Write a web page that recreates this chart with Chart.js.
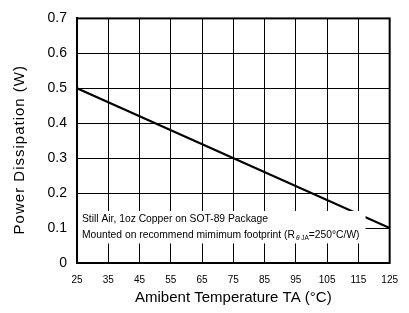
<!DOCTYPE html>
<html>
<head>
<meta charset="utf-8">
<script src="https://cdn.jsdelivr.net/npm/chart.js@4/dist/chart.umd.min.js"></script>
<style>
  html, body { margin: 0; padding: 0; background: #fff; }
  #wrap { width: 409px; height: 313px; }
</style>
</head>
<body>
<div id="wrap"><canvas id="c" width="409" height="313"></canvas></div>
<script>
// ---- data ----
const temperatures = [25, 125];          // °C
const powerDissipation = [0.5, 0.1];     // W
const xTicks = [25, 35, 45, 55, 65, 75, 85, 95, 105, 115, 125];
const yTicks = [0, 0.1, 0.2, 0.3, 0.4, 0.5, 0.6, 0.7];
const noteLine1 = 'Still Air, 1oz Copper on SOT-89 Package';
const noteLine2a = 'Mounted on recommend mimimum footprint (R';
const noteSubTheta = 'θ';
const noteSubJA = ' JA';
const noteLine2b = '=250°C/W)';
const xTitle = 'Amibent Temperature TA (°C)';
const yTitle = 'Power Dissipation (W)';

const FONT = "'Liberation Sans', Arial, Helvetica, sans-serif";

const notePlugin = {
  id: 'note',
  afterDatasetsDraw(chart) {
    const {ctx, chartArea, scales} = chart;
    const x = scales.x, y = scales.y;
    const left = chartArea.left + 1;
    const right = x.getPixelForValue(117.3);
    const top = y.getPixelForValue(0.149);
    const bottom = y.getPixelForValue(0.056);
    ctx.save();
    ctx.fillStyle = '#fff';
    ctx.fillRect(left, top, right - left, bottom - top);
    ctx.fillStyle = '#000';
    ctx.textBaseline = 'middle';
    ctx.textAlign = 'left';
    const F = '10.3px ' + FONT;
    ctx.font = F;
    const tx = left + 4;
    const y1 = top + 8.5, y2 = top + 24.5;
    ctx.fillText(noteLine1, tx, y1);
    let cx = tx;
    ctx.fillText(noteLine2a, cx, y2);
    cx += ctx.measureText(noteLine2a).width + 1;
    ctx.font = 'italic 6.5px ' + FONT;
    ctx.fillText(noteSubTheta, cx, y2 + 2.5);
    cx += ctx.measureText(noteSubTheta).width;
    ctx.font = '6.5px ' + FONT;
    ctx.fillText(noteSubJA, cx, y2 + 2.5);
    cx += ctx.measureText(noteSubJA).width;
    ctx.font = F;
    ctx.fillText(noteLine2b, cx, y2);
    ctx.restore();
  },
  afterDraw(chart) {
    const {ctx, chartArea} = chart;
    ctx.save();
    ctx.strokeStyle = '#000';
    ctx.lineWidth = 2;
    ctx.strokeRect(chartArea.left, chartArea.top, chartArea.right - chartArea.left, chartArea.bottom - chartArea.top);
    // y axis title
    ctx.translate(20, (chartArea.top + chartArea.bottom) / 2 + 9);
    ctx.rotate(-Math.PI / 2);
    ctx.fillStyle = '#000';
    ctx.font = '15px ' + FONT;
    try { ctx.letterSpacing = '1px'; } catch (e) {}
    ctx.textAlign = 'center';
    ctx.textBaseline = 'middle';
    ctx.fillText(yTitle, 0, 0);
    ctx.restore();
  }
};

new Chart(document.getElementById('c'), {
  type: 'line',
  data: {
    datasets: [{
      data: temperatures.map((t, i) => ({x: t, y: powerDissipation[i]})),
      borderColor: '#000',
      borderWidth: 2,
      pointRadius: 0,
      fill: false,
      tension: 0
    }]
  },
  options: {
    responsive: false,
    animation: false,
    events: [],
    layout: { padding: { top: 13, right: 9, bottom: 0, left: 0 } },
    plugins: { legend: { display: false }, tooltip: { enabled: false } },
    scales: {
      x: {
        type: 'linear',
        min: xTicks[0],
        max: xTicks[xTicks.length - 1],
        afterBuildTicks(scale) { scale.ticks = xTicks.map(v => ({value: v})); },
        afterFit(scale) { scale.height = 50; },
        grid: { color: '#000', lineWidth: 1, drawTicks: false },
        border: { color: '#000', width: 2 },
        ticks: { color: '#000', font: { family: FONT, size: 10 }, padding: 11, maxRotation: 0, autoSkip: false },
        title: { display: true, text: xTitle, color: '#000', font: { family: FONT, size: 15 }, padding: { top: 0, bottom: 6 } }
      },
      y: {
        type: 'linear',
        min: yTicks[0],
        max: yTicks[yTicks.length - 1],
        afterBuildTicks(scale) { scale.ticks = yTicks.map(v => ({value: v})); },
        afterFit(scale) { scale.width = 77; },
        grid: { color: '#000', lineWidth: 1, drawTicks: false },
        border: { color: '#000', width: 2 },
        ticks: { color: '#000', font: { family: FONT, size: 14 }, padding: 10, callback: v => String(Math.round(v * 10) / 10) },
        title: { display: false, text: yTitle }
      }
    }
  },
  plugins: [notePlugin]
});
</script>
</body>
</html>
